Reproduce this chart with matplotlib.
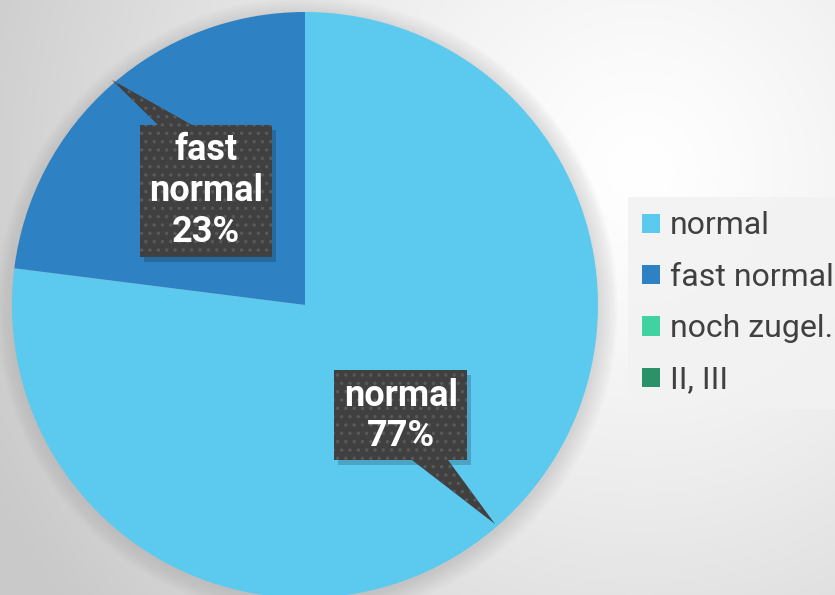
import numpy as np
import matplotlib
matplotlib.use("Agg")
import matplotlib.pyplot as plt
from matplotlib.patches import Polygon, Circle

categories = ["normal", "fast normal", "noch zugel.", "II, III"]
values = [77, 23, 0, 0]
colors = ["#5cc9ee", "#2e82c3", "#42d1a1", "#2b9169"]
label_texts = ["normal\n77%", "fast\nnormal\n23%"]

plt.rcParams['font.family'] = ['Roboto', 'DejaVu Sans']
plt.rcParams['hatch.color'] = '#5e5e5e'
plt.rcParams['hatch.linewidth'] = 1.2

W, H = 835, 595
fig = plt.figure(figsize=(W / 100, H / 100), dpi=100)
ax = fig.add_axes([0, 0, 1, 1])
ax.set_xlim(0, W)
ax.set_ylim(0, H)
ax.set_aspect('equal')
ax.axis('off')

# background radial gradient
yy, xx = np.mgrid[0:H, 0:W]
d = np.hypot(xx - 640, yy - (H - 170)) / 720.0
d = np.clip(d, 0, 1)
g = 1.0 - 0.21 * d ** 1.3
bg = np.dstack([g, g, g])
ax.imshow(bg, extent=(0, W, 0, H), origin='lower', zorder=0, interpolation='bilinear')

cx, cy, R = 305, 290, 293

# soft shadow around pie
for i in range(14):
    ax.add_patch(Circle((cx + 2, cy - 3), R + 18 - i * 1.4, color='#9a9a9a',
                        alpha=0.022, lw=0, zorder=1))

wedges, _ = ax.pie(values, colors=colors, startangle=90, counterclock=False,
                   explode=[0, 0.02, 0, 0], radius=R, center=(cx, cy),
                   wedgeprops=dict(linewidth=0, edgecolor='none'), frame=True)
for w in wedges:
    w.set_zorder(2)
ax.set_xlim(0, W)
ax.set_ylim(0, H)
ax.axis('off')


def callout(box, base, tip, text, tx, ty):
    x0, y0, x1, y1 = box  # pixel coords (top-left origin)
    def P(x, y):
        return (x, H - y)
    sh = Polygon([P(x0 + 4, y0 + 5), P(x1 + 4, y0 + 5), P(x1 + 4, y1 + 5), P(x0 + 4, y1 + 5)],
                 closed=True, facecolor='#000000', alpha=0.18, lw=0, zorder=3)
    ax.add_patch(sh)
    pts = [P(x0, y0), P(x1, y0), P(x1, y1), P(x0, y1)]
    tri = [P(*base[0]), P(*base[1]), P(*tip)]
    ax.add_patch(Polygon(pts, closed=True, facecolor='#404040', edgecolor='none',
                         lw=0, zorder=4))
    ax.add_patch(Polygon(tri, closed=True, facecolor='#404040', edgecolor='none',
                         lw=0, zorder=4))
    ax.add_patch(Polygon(pts, closed=True, facecolor='none', edgecolor='#5a5a5a',
                         hatch='..', lw=0, zorder=5))
    ax.add_patch(Polygon(tri, closed=True, facecolor='none', edgecolor='#5a5a5a',
                         hatch='..', lw=0, zorder=5))
    ax.text(tx, H - ty, text, color='white', fontsize=26, fontweight='bold',
            ha='center', va='center', linespacing=1.17, zorder=6)


callout((140, 125, 272, 257), ((158, 125), (192, 125)), (112, 80),
        label_texts[1], 206, 191)
callout((334, 370, 467, 460), ((412, 460), (448, 460)), (495, 524),
        label_texts[0], 401, 416)

leg = ax.legend(wedges, categories, loc='center left',
                bbox_to_anchor=(628 / W, (H - 303) / H), bbox_transform=fig.transFigure,
                frameon=True, fancybox=False, facecolor='#f2f2f2', edgecolor='none',
                framealpha=0.85, fontsize=23, handlelength=0.55, handleheight=0.55,
                handletextpad=0.3, labelspacing=0.7, borderpad=0.45, borderaxespad=0,
                labelcolor='#404040')

fig.savefig('out.png', dpi=100)
